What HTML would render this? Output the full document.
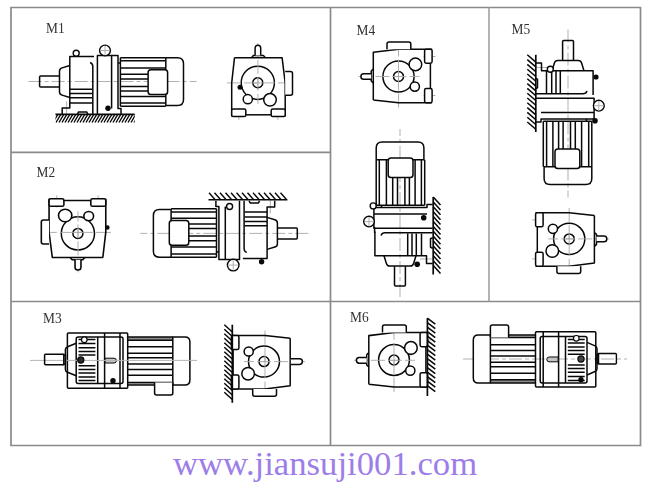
<!DOCTYPE html>
<html><head><meta charset="utf-8"><style>
html,body{margin:0;padding:0;background:#fff;}
body{width:650px;height:492px;position:relative;overflow:hidden;}
svg{position:absolute;left:0;top:0;}
.lb{position:absolute;font-family:"Liberation Serif",serif;font-size:13.4px;color:#333;line-height:1;transform-origin:0 0;transform:scaleY(1.1);filter:grayscale(1);}
.url{position:absolute;left:173px;top:447px;font-family:"Liberation Serif",serif;font-size:34.7px;color:#9d7ee9;line-height:1;white-space:nowrap;}
</style></head><body>
<svg width="650" height="492" viewBox="0 0 650 492">

<defs>
<g id="ev">
  <g stroke="#a8a8a8" stroke-width="0.9" fill="none" stroke-dasharray="14,3">
    <path d="M0,-40V21M-31,0H36M-19,25V37M20,25V37"/>
  </g>
  <g stroke="#080808" stroke-width="1.5" fill="none" stroke-linejoin="round">
    <path d="M-23.4,-25.2H24.2L27.3,0V33.6M-23.4,-25.2L-26.2,0V33.6"/>
    <rect x="-26.2" y="26.1" width="14.1" height="7.5" rx="1.6" fill="#fff"/>
    <rect x="13.3" y="26.1" width="14" height="7.5" rx="1.6" fill="#fff"/>
    <path d="M-12.1,31.9H13.3"/>
    <path d="M27.3,-11.5H32.6Q34.6,-11.5 34.6,-9.5V10.3Q34.6,12.3 32.6,12.3H27.3" fill="#fff"/>
    <circle cx="-10.1" cy="16.3" r="4.6" fill="#fff"/>
    <circle cx="12.1" cy="16.9" r="6.3" fill="#fff"/>
  </g>
  <g stroke="#a8a8a8" stroke-width="0.9" fill="none">
    <path d="M0,-4V4M-4,0H4"/>
  </g>
</g>

<g id="evb">
  <g stroke="#080808" stroke-width="1.5" fill="none" stroke-linejoin="round">
    <path d="M-6.4,-25.2L-4.5,-27.3H5.5L7.5,-25.2"/>
    <path d="M-2.8,-27.3V-34.8A2.8,2.8 0 0 1 2.8,-34.8V-27.3" fill="#fff"/>
  </g>
</g>
<g id="mA">
  <g stroke="#a8a8a8" stroke-width="0.9" fill="none" stroke-dasharray="13,3,4,3">
    <path d="M-11,0H157M27,20V33"/>
  </g>
  <g stroke="#080808" stroke-width="1.5" fill="none" stroke-linejoin="round">
    <path d="M19.9,-5.5H1Q0,-5.5 0,-4.5V4.4Q0,5.4 1,5.4H19.9"/>
    <path d="M30.2,-16L22.5,-13.6Q19.9,-12.8 19.9,-10.5V10.5Q19.9,12.8 22.5,13.6L30.2,16"/>
    <path d="M54.4,-25.1H30.2V26.5H22.6V32.7"/>
    <path d="M30.2,7.7H52.6M30.2,12H52.6M30.2,16.3H52.6M30.2,21.5H52.6"/>
    <path d="M50.5,-19Q53.2,-18 53.2,-15V32.7"/>
    <path d="M57.8,32.7V-26.1H78.4V27H81.4V32.7M72,-26.1V27"/>
    <path d="M78.4,-18.5H80.8"/>
    <path d="M80.8,-23.8H126.2M80.8,24.7H126.2M80.8,-23.8V24.7"/>
    <path d="M80.8,-20.7H126.2M80.8,-13.6H126.2M80.8,-7.3H108.9M80.8,-2.5H108.9M80.8,4.9H108.9M80.8,9.4H108.9M80.8,15.1H126.2M80.8,21.4H126.2"/>
    <path d="M126.2,-23.8H137.9Q143.9,-23.8 143.9,-17.8V17.9Q143.9,23.9 137.9,23.9H126.2V-23.8"/>
    <rect x="108.5" y="-11.8" width="19.5" height="24.8" rx="2.8" fill="#fff"/>
    <path d="M37.8,32.7L38.8,30.5H47.2L48.2,32.7"/>
  </g>
</g>

<g id="mB">
  <rect x="83.1" y="-23.6" width="45.1" height="3.3" fill="#8d8d8d"/><rect x="83.1" y="22" width="27" height="2.2" fill="#b0b0b0"/>
  <g stroke="#080808" stroke-width="1.5" fill="none" stroke-linejoin="round">
    <rect x="22.8" y="-27.6" width="60.3" height="55.2" rx="1"/>
    <rect x="31.6" y="-23.5" width="46.8" height="46.5" rx="2"/>
    <path d="M53.1,-23.5V23M60,-27.6V27.6M75.4,-27.6V27.6"/>
    <path d="M33.9,-17.1H50.8M33.9,-12.8H50.8M33.9,-9.1H50.8M33.9,-5.6H50.8M33.9,5.2H50.8M33.9,9H50.8M33.9,12.4H50.8M33.9,16.4H50.8M33.9,19.8H50.8M33.9,-21H50.8"/>
    <path d="M83.1,-23.6H128.2M83.1,24.4H110"/>
    <path d="M83.1,-20.3H128.2M83.1,-13.8H128.2M83.1,-7.3H128.2M83.1,-2.9H128.2M83.1,3.3H128.2M83.1,9H128.2M83.1,14.7H128.2M83.1,22H128.2"/>
    <path d="M128.2,-23.6H140.3Q145.3,-23.6 145.3,-18.6V19.4Q145.3,24.4 140.3,24.4H128.2Z" fill="#fff"/>
    <path d="M110,22V32.5Q110,34.5 112,34.5H126.2Q128.2,34.5 128.2,32.5V22" fill="#fff"/>
  </g>
  <path d="M60.5,-2.4H69.4A2.4,2.4 0 0 1 69.4,2.4H60.5Z" fill="#c4c4c4" stroke="#080808" stroke-width="1"/>
</g>
<g id="mBn">
  <g stroke="#080808" stroke-width="1.5" fill="none" stroke-linejoin="round">
    <path d="M19.2,-5.2H1Q0,-5.2 0,-4.2V4.2Q0,5.2 1,5.2H19.2Z"/>
    <path d="M19.2,-4.5H20.8V4.5H19.2"/>
    <path d="M31.6,-16.3L23,-12.8Q20.8,-11.9 20.8,-10V10Q20.8,11.9 23,12.8L31.6,16.3"/>
  </g>
</g>
</defs>

<g stroke="#8a8a8a" stroke-width="1.7" fill="none"><path d="M11,7.5H640.5V445.5H11Z"/><path d="M330.5,7.5V445.5M11,152.3H330.5M11,301.5H640.5"/><path d="M489,7.5V301.5" stroke="#a0a0a0" stroke-width="1.6"/></g>
<use href="#mA" transform="translate(39.6,81.5)"/>
<path d="M55.5,114.4H134.7" stroke="#080808" stroke-width="1.6"/>
<clipPath id="c1"><rect x="55.5" y="114" width="79.2" height="9"/></clipPath>
<g clip-path="url(#c1)"><path d="M50.0,122.5L54.8,114.3M53.0,122.5L57.8,114.3M56.0,122.5L60.8,114.3M59.0,122.5L63.8,114.3M62.0,122.5L66.8,114.3M65.0,122.5L69.8,114.3M68.0,122.5L72.8,114.3M71.0,122.5L75.8,114.3M74.0,122.5L78.8,114.3M77.0,122.5L81.8,114.3M80.0,122.5L84.8,114.3M83.0,122.5L87.8,114.3M86.0,122.5L90.8,114.3M89.0,122.5L93.8,114.3M92.0,122.5L96.8,114.3M95.0,122.5L99.8,114.3M98.0,122.5L102.8,114.3M101.0,122.5L105.8,114.3M104.0,122.5L108.8,114.3M107.0,122.5L111.8,114.3M110.0,122.5L114.8,114.3M113.0,122.5L117.8,114.3M116.0,122.5L120.8,114.3M119.0,122.5L123.8,114.3M122.0,122.5L126.8,114.3M125.0,122.5L129.8,114.3M128.0,122.5L132.8,114.3M131.0,122.5L135.8,114.3M134.0,122.5L138.8,114.3" stroke="#080808" stroke-width="1.35" fill="none"/></g>
<g stroke="#080808" stroke-width="1.4" fill="#fff"><circle cx="76.2" cy="53.2" r="3"/><circle cx="105" cy="50.5" r="5.4"/></g>
<path d="M105,46V55M100.5,50.5H109.5" stroke="#a8a8a8" stroke-width="0.9"/>
<circle cx="108" cy="108.2" r="2.7" fill="#080808"/>
<g stroke="#080808" stroke-width="1.5" fill="none"><circle cx="257.8" cy="82.8" r="16.6"/><circle cx="257.8" cy="82.8" r="5"/></g>
<use href="#ev" transform="translate(257.9,82.9)"/>
<use href="#evb" transform="translate(257.9,82.9)"/>
<circle cx="240" cy="87.3" r="2.5" fill="#080808"/>
<use href="#mA" transform="translate(297.3,233.4) rotate(180)"/>
<path d="M208.5,199.8H287.4" stroke="#080808" stroke-width="1.6"/>
<path d="M209.0,192.8L215.2,199.8M214.5,192.8L220.7,199.8M220.0,192.8L226.2,199.8M225.5,192.8L231.7,199.8M231.0,192.8L237.2,199.8M236.5,192.8L242.7,199.8M242.0,192.8L248.2,199.8M247.5,192.8L253.7,199.8M253.0,192.8L259.2,199.8M258.5,192.8L264.7,199.8M264.0,192.8L270.2,199.8M269.5,192.8L275.7,199.8M275.0,192.8L281.2,199.8M280.5,192.8L286.7,199.8" stroke="#080808" stroke-width="1.4" fill="none"/>
<g stroke="#080808" stroke-width="1.4" fill="#fff"><circle cx="229.6" cy="206.5" r="3"/><circle cx="233.2" cy="265.1" r="5.8"/></g>
<path d="M233.2,260.5V269.5M228.5,265.1H237.9" stroke="#a8a8a8" stroke-width="0.9"/>
<circle cx="261.6" cy="261.8" r="2.7" fill="#080808"/>
<g stroke="#080808" stroke-width="1.5" fill="none"><circle cx="77.9" cy="233.4" r="16.6"/><circle cx="77.9" cy="233.4" r="5"/></g>
<use href="#ev" transform="translate(78,232.4) scale(1.06,1) rotate(180)"/>
<use href="#evb" transform="translate(78,232.4) scale(1.06,1) rotate(180)"/>
<circle cx="107.3" cy="227.5" r="2.3" fill="#080808"/>
<use href="#mB" transform="translate(44.6,360.6)"/>
<path d="M30,360.4H197" stroke="#b4b4b4" stroke-width="1"/>
<use href="#mBn" transform="translate(44.6,359.5)"/>
<g stroke="#080808" stroke-width="1.2" fill="#fff"><circle cx="84.3" cy="339.7" r="2.8"/></g>
<circle cx="80.8" cy="360" r="3.1" fill="#2a2a2a" stroke="#080808" stroke-width="1.2"/>
<circle cx="113" cy="380.8" r="2.7" fill="#080808"/>
<g stroke="#080808" stroke-width="1.5" fill="none"><circle cx="264" cy="361.6" r="15.5"/><circle cx="264" cy="361.6" r="5"/></g>
<use href="#ev" transform="translate(265,361.6) rotate(90)"/>
<path d="M232.3,324.7V402.8" stroke="#080808" stroke-width="1.7"/>
<path d="M290.9,358.8H299.6A2.8,2.8 0 0 1 299.6,364.4H290.9" stroke="#080808" stroke-width="1.5" fill="#fff"/>
<path d="M224.3,324.7L232.3,332.0M224.3,329.2L232.3,336.5M224.3,333.7L232.3,341.0M224.3,338.2L232.3,345.5M224.3,342.7L232.3,350.0M224.3,347.2L232.3,354.5M224.3,351.7L232.3,359.0M224.3,356.2L232.3,363.5M224.3,360.7L232.3,368.0M224.3,365.2L232.3,372.5M224.3,369.7L232.3,377.0M224.3,374.2L232.3,381.5M224.3,378.7L232.3,386.0M224.3,383.2L232.3,390.5M224.3,387.7L232.3,395.0M224.3,392.2L232.3,399.5" stroke="#080808" stroke-width="1.5" fill="none"/>
<g stroke="#080808" stroke-width="1.5" fill="none"><circle cx="398.5" cy="76.5" r="15.6"/><circle cx="398.5" cy="76.5" r="5"/></g>
<use href="#ev" transform="translate(398.5,76.5) rotate(-90)"/>
<use href="#evb" transform="translate(398.5,76.5) rotate(-90)"/>
<use href="#mA" transform="translate(400,286) rotate(-90)"/>
<path d="M433.2,197V274.5" stroke="#080808" stroke-width="1.7"/>
<path d="M433.3,197.0L440.5,205.0M433.3,201.9L440.5,209.9M433.3,206.8L440.5,214.8M433.3,211.7L440.5,219.7M433.3,216.6L440.5,224.6M433.3,221.5L440.5,229.5M433.3,226.4L440.5,234.4M433.3,231.3L440.5,239.3M433.3,236.2L440.5,244.2M433.3,241.1L440.5,249.1M433.3,246.0L440.5,254.0M433.3,250.9L440.5,258.9M433.3,255.8L440.5,263.8M433.3,260.7L440.5,268.7M433.3,265.6L440.5,273.6" stroke="#080808" stroke-width="1.5" fill="none"/>
<g stroke="#080808" stroke-width="1.4" fill="#fff"><circle cx="373.2" cy="205.9" r="3"/><circle cx="369" cy="221.6" r="5.3"/></g>
<path d="M369,217V226M364.5,221.6H373.5" stroke="#a8a8a8" stroke-width="0.9"/>
<circle cx="423.7" cy="217.7" r="2.8" fill="#080808"/>
<circle cx="417.2" cy="264.2" r="2.8" fill="#080808"/>
<path d="M374.6,227V233" stroke="#080808" stroke-width="1.5"/>
<use href="#mA" transform="translate(568,40.5) rotate(90)"/>
<path d="M535.8,54.8V132" stroke="#080808" stroke-width="1.7"/>
<path d="M527.3,54.8L535.8,62.1M527.3,59.6L535.8,66.9M527.3,64.4L535.8,71.7M527.3,69.2L535.8,76.5M527.3,74.0L535.8,81.3M527.3,78.8L535.8,86.1M527.3,83.6L535.8,90.9M527.3,88.4L535.8,95.7M527.3,93.2L535.8,100.5M527.3,98.0L535.8,105.3M527.3,102.8L535.8,110.1M527.3,107.6L535.8,114.9M527.3,112.4L535.8,119.7M527.3,117.2L535.8,124.5M527.3,122.0L535.8,129.3" stroke="#080808" stroke-width="1.5" fill="none"/>
<g stroke="#080808" stroke-width="1.4" fill="#fff"><circle cx="550.3" cy="69.3" r="3"/><circle cx="598.8" cy="105.7" r="5.4"/></g>
<path d="M598.8,101V110.5M594,105.7H603.5" stroke="#a8a8a8" stroke-width="0.9"/>
<circle cx="596" cy="77" r="2.6" fill="#080808"/>
<circle cx="595" cy="120.8" r="2.8" fill="#080808"/>
<g stroke="#080808" stroke-width="1.5" fill="none"><circle cx="569.2" cy="238.9" r="15.6"/><circle cx="569.2" cy="238.9" r="5"/></g>
<use href="#ev" transform="translate(569.2,238.9) rotate(90)"/>
<use href="#evb" transform="translate(569.2,238.9) rotate(90)"/>
<g stroke="#080808" stroke-width="1.5" fill="none"><circle cx="394" cy="360" r="15.4"/><circle cx="394" cy="360" r="5"/></g>
<use href="#ev" transform="translate(394,360.3) scale(1,1.02) rotate(-90)"/>
<use href="#evb" transform="translate(394,360.3) scale(1,1.02) rotate(-90)"/>
<path d="M427.4,318.2V396" stroke="#080808" stroke-width="1.7"/>
<path d="M427.3,318.2L435.3,324.2M427.3,322.7L435.3,328.7M427.3,327.2L435.3,333.2M427.3,331.7L435.3,337.7M427.3,336.2L435.3,342.2M427.3,340.7L435.3,346.7M427.3,345.2L435.3,351.2M427.3,349.7L435.3,355.7M427.3,354.2L435.3,360.2M427.3,358.7L435.3,364.7M427.3,363.2L435.3,369.2M427.3,367.7L435.3,373.7M427.3,372.2L435.3,378.2M427.3,376.7L435.3,382.7M427.3,381.2L435.3,387.2M427.3,385.7L435.3,391.7" stroke="#080808" stroke-width="1.5" fill="none"/>
<path d="M463,359H627" stroke="#a8a8a8" stroke-width="0.9" stroke-dasharray="13,3,4,3"/>
<use href="#mB" transform="translate(618.6,359.4) rotate(180)"/>
<use href="#mBn" transform="translate(616.4,358.7) rotate(180) scale(0.93,1)"/>
<g stroke="#080808" stroke-width="1.2" fill="#fff"><circle cx="576.3" cy="338.3" r="2.8"/></g>
<circle cx="581" cy="359" r="3.1" fill="#444" stroke="#080808" stroke-width="1.2"/>
<circle cx="581" cy="379.8" r="2.7" fill="#080808"/>
</svg>
<div class="lb" style="left:46px;top:21px">M1</div>
<div class="lb" style="left:36.5px;top:165px">M2</div>
<div class="lb" style="left:43px;top:311px">M3</div>
<div class="lb" style="left:356.5px;top:22.5px">M4</div>
<div class="lb" style="left:511.5px;top:22px">M5</div>
<div class="lb" style="left:350px;top:310px">M6</div>
<div class="url">www.jiansuji001.com</div>
</body></html>
